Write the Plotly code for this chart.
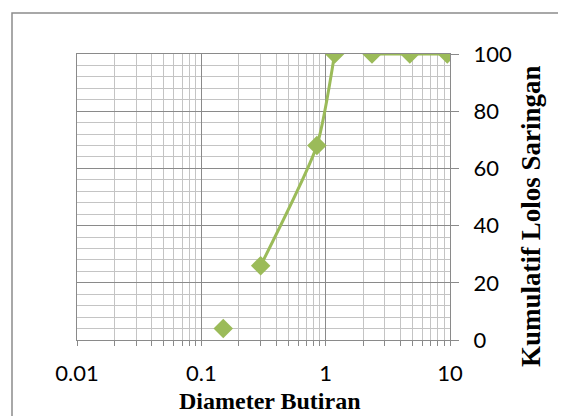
import plotly.graph_objects as go

# Data
diameter = [0.15, 0.3, 0.85, 1.18, 2.36, 4.75, 9.5]
lolos = [4, 26, 68, 100, 100, 100, 100]
# line segments (index ranges) drawn as smoothed lines in the reference
segments = [(1, 4), (4, 7)]

x_ticks = [0.01, 0.1, 1, 10]
x_tick_labels = ["0.01", "0.1", "1", "10"]
y_ticks = [0, 20, 40, 60, 80, 100]

GREEN = "#9BBB59"
MAJOR = "#8a8a8a"
MINOR = "#c4c4c4"

OFF = 8  # page body margin
L, R, T, B = 77 - OFF, 450 - OFF, 54 - OFF, 340 - OFF
W, H = 566, 416
pw, ph = R - L, B - T

fig = go.Figure()
for a, b in segments:
    fig.add_trace(go.Scatter(
        x=diameter[a:b], y=lolos[a:b], mode="lines",
        line=dict(color=GREEN, width=3, shape="spline", smoothing=0.6),
        hoverinfo="skip", showlegend=False))
fig.add_trace(go.Scatter(
    x=diameter, y=lolos, mode="markers",
    marker=dict(symbol="diamond", size=15, color=GREEN),
    showlegend=False))

TITLE_FONT = dict(family="Liberation Serif, DejaVu Serif, serif", size=24, color="black")

fig.update_layout(
    width=W, height=H,
    margin=dict(l=L, r=W - R, t=T, b=H - B),
    paper_bgcolor="white", plot_bgcolor="white",
    font=dict(family="Lato, Open Sans, sans-serif", size=22, color="black"),
    xaxis=dict(
        type="log", range=[-2, 1],
        tickvals=x_ticks, ticktext=x_tick_labels,
        showgrid=True, gridcolor=MAJOR, gridwidth=1,
        ticks="outside", ticklen=5, tickcolor=MAJOR,
        showline=True, linecolor=MAJOR, mirror=True,
        minor=dict(dtick="D1", showgrid=True, gridcolor=MINOR, gridwidth=1,
                   ticks="outside", ticklen=5, tickcolor=MAJOR),
        zeroline=False, ticklabelstandoff=9,
    ),
    yaxis=dict(
        side="right", range=[0, 100], tickvals=y_ticks,
        showgrid=True, gridcolor=MAJOR, gridwidth=1,
        ticks="outside", ticklen=8, tickcolor=MAJOR,
        showline=True, linecolor=MAJOR, mirror=True,
        minor=dict(dtick=4, showgrid=True, gridcolor=MINOR, gridwidth=1),
        zeroline=False, ticklabelstandoff=10,
    ),
    annotations=[
        dict(text="<b>Diameter Butiran</b>", xref="paper", yref="paper",
             x=(270 - OFF - L) / pw, y=(B - (401 - OFF)) / ph, showarrow=False,
             xanchor="center", yanchor="middle", font=TITLE_FONT),
        dict(text="<b>Kumulatif Lolos Saringan</b>", xref="paper", yref="paper",
             x=(531 - OFF - L) / pw, y=(B - (216 - OFF)) / ph, showarrow=False,
             xanchor="center", yanchor="middle",
             textangle=-90, font=dict(TITLE_FONT, size=27)),
    ],
    shapes=[
        dict(type="rect", xref="paper", yref="paper",
             x0=(12 - OFF - L) / pw, x1=(580 - L) / pw,
             y0=(B - 430) / ph, y1=(B - (13 - OFF)) / ph,
             line=dict(color="#8c8c8c", width=1.5), layer="below"),
    ],
)

fig.write_html("out.html")
